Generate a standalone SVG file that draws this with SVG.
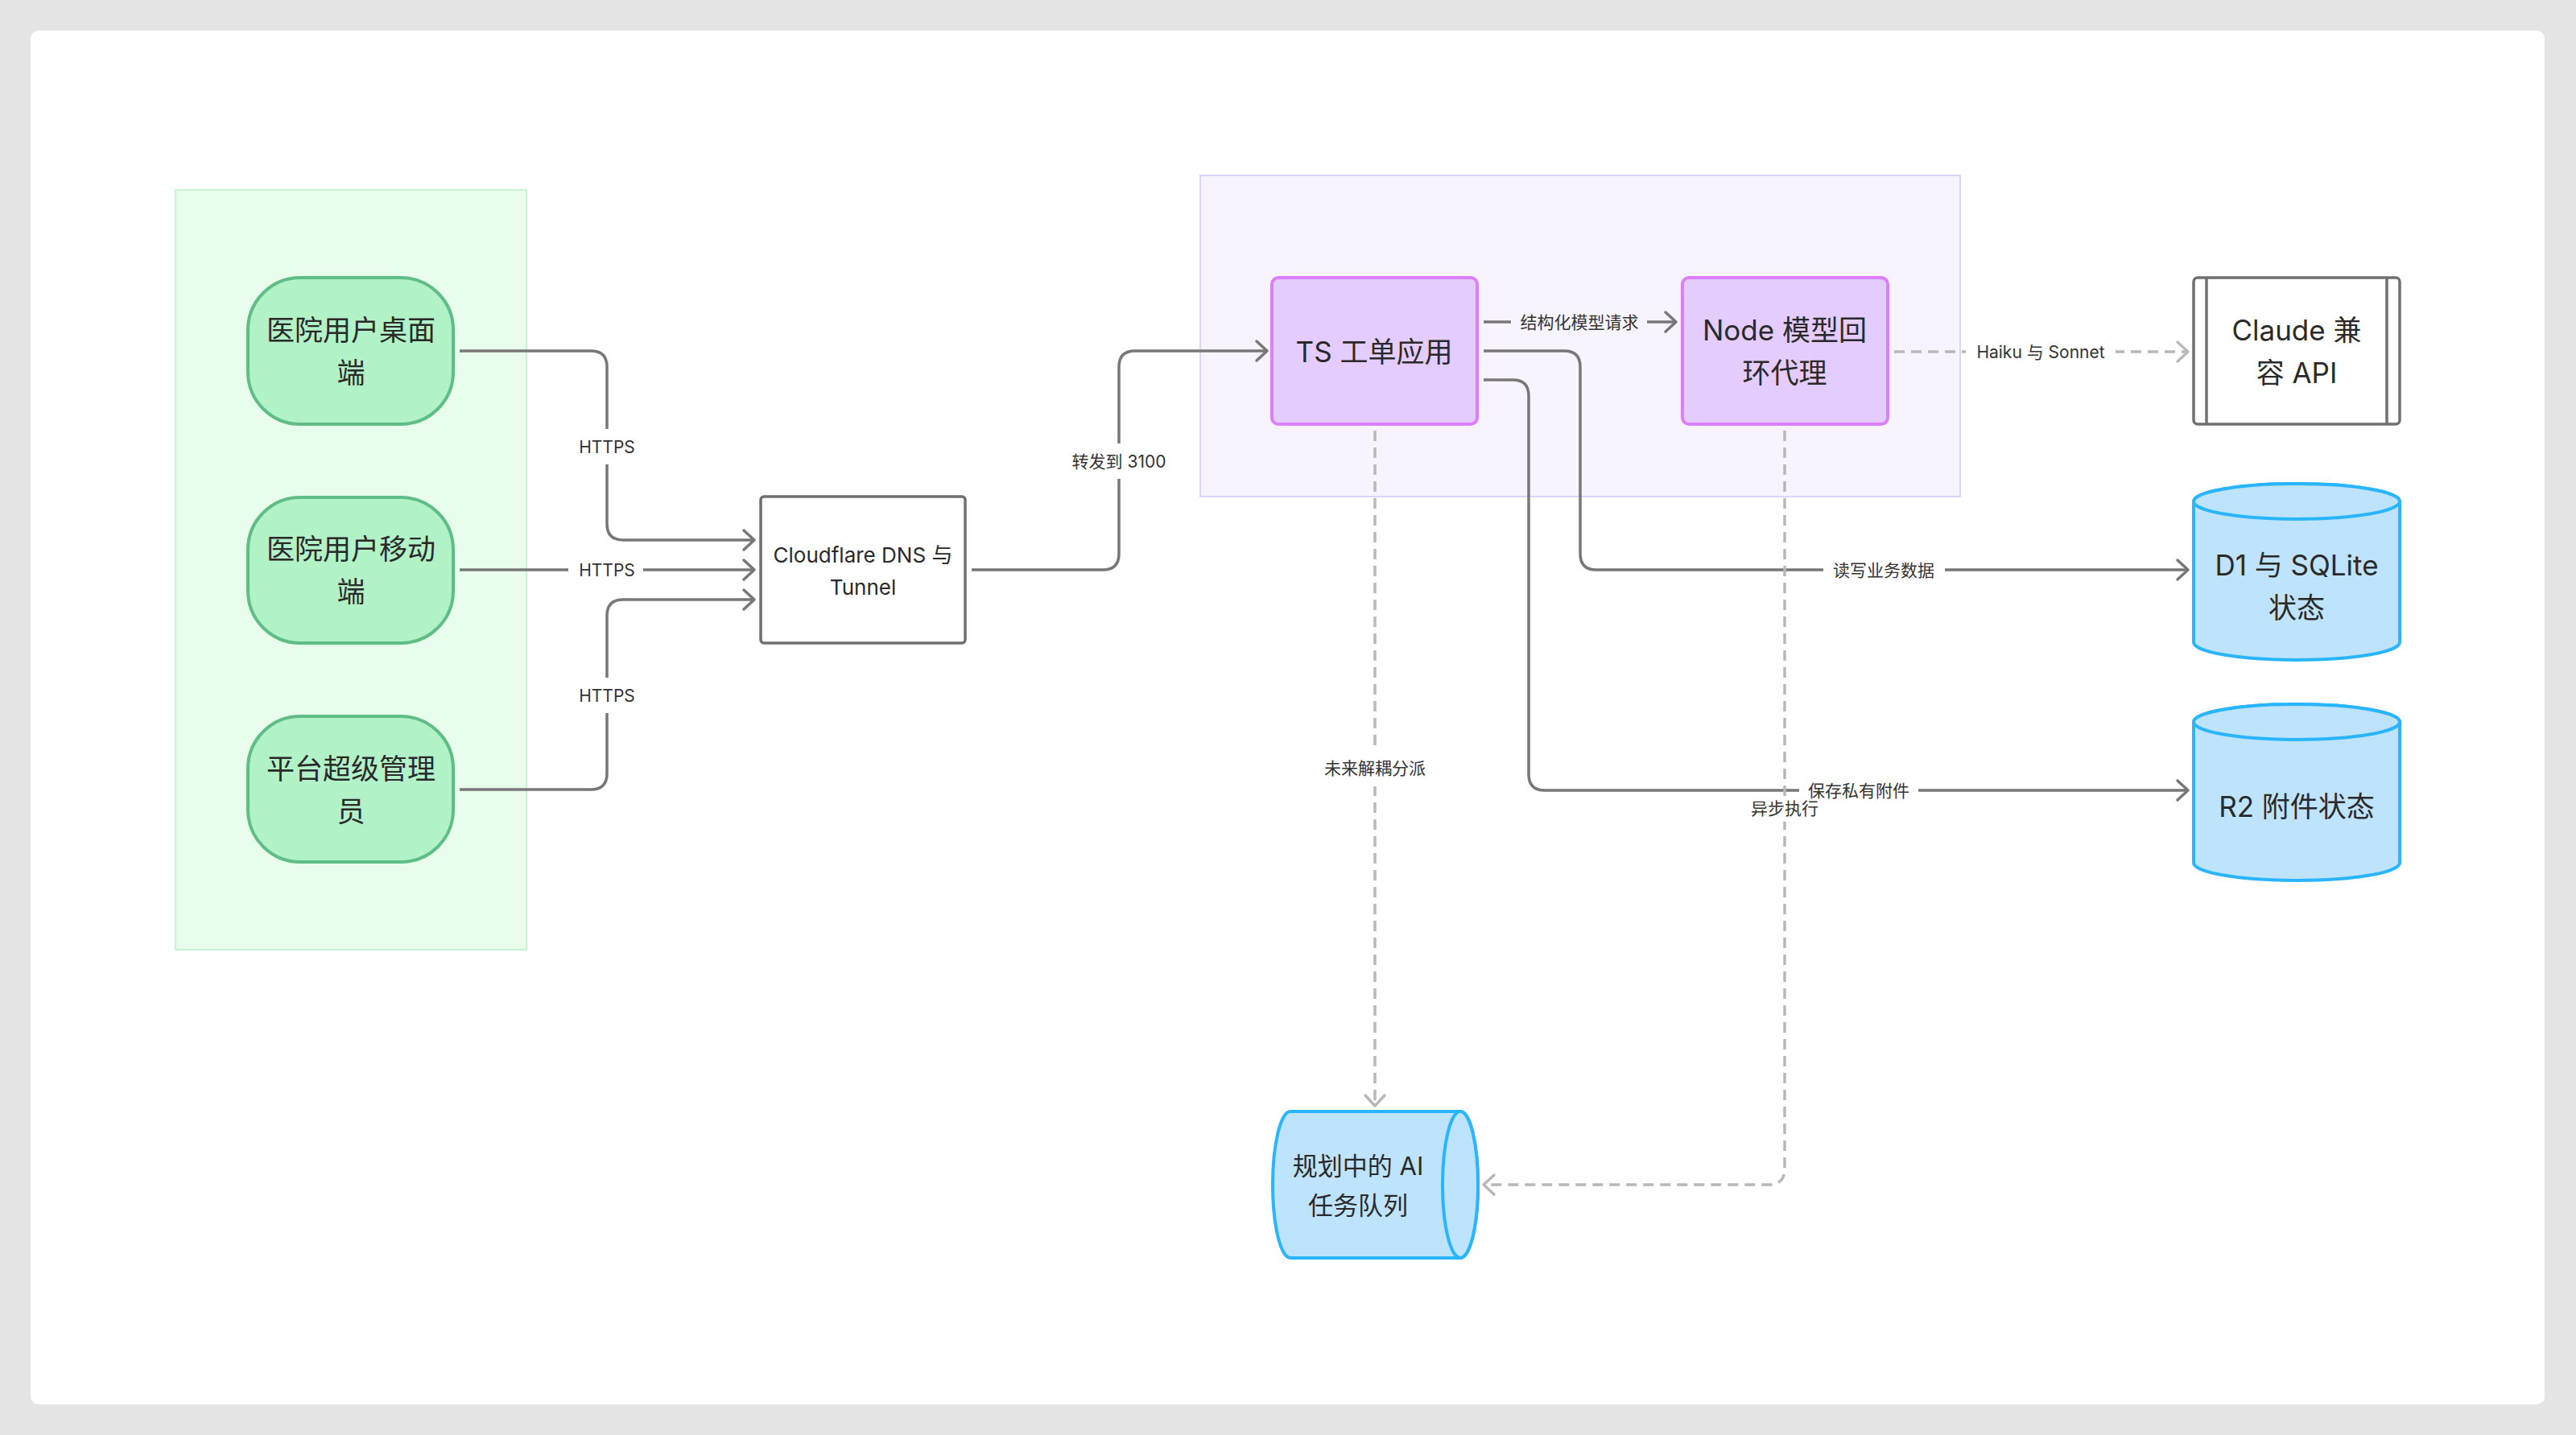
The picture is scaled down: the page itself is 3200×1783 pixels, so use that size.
<svg xmlns="http://www.w3.org/2000/svg" width="3200" height="1783" viewBox="0 0 3200 1783">
<defs>
<style>
.ntext{font-family:"Inter","Noto Sans CJK SC",sans-serif;font-size:35px;fill:#2a2a2a;text-anchor:middle;dominant-baseline:central}
.qtext{font-family:"Inter","Noto Sans CJK SC",sans-serif;font-size:31px;fill:#2a2a2a;text-anchor:middle;dominant-baseline:central}
.ctext{font-family:"Inter","Noto Sans CJK SC",sans-serif;font-size:26px;fill:#2a2a2a;text-anchor:middle;dominant-baseline:central}
.ltext{font-family:"Inter","Noto Sans CJK SC",sans-serif;font-size:21px;fill:#333;text-anchor:middle;dominant-baseline:central}
.green{fill:#b1f2c7;stroke:#5fbe86;stroke-width:4}
.purple{fill:#e5ccff;stroke:#dd7dff;stroke-width:4}
.db{fill:#bee3fc;stroke:#29b5ff;stroke-width:4}
.plain{fill:#ffffff;stroke:#707070;stroke-width:3.5}
.edge{fill:none;stroke:#777777;stroke-width:3.5}
.dash{fill:none;stroke:#b8b8b8;stroke-width:3.5;stroke-dasharray:13 8}
</style>
<marker id="arr" markerUnits="userSpaceOnUse" markerWidth="40" markerHeight="40" viewBox="-20 -20 40 40" refX="0" refY="0" orient="auto" overflow="visible">
<path d="M-13,-12 L0,0 L-13,12" fill="none" stroke="#777777" stroke-width="3.5" stroke-linecap="round" stroke-linejoin="round"/>
</marker>
<marker id="arrd" markerUnits="userSpaceOnUse" markerWidth="40" markerHeight="40" viewBox="-20 -20 40 40" refX="0" refY="0" orient="auto" overflow="visible">
<path d="M-13,-12 L0,0 L-13,12" fill="none" stroke="#b8b8b8" stroke-width="3.5" stroke-linecap="round" stroke-linejoin="round" stroke-dasharray="none"/>
</marker>
</defs>
<rect x="0" y="0" width="3200" height="1783" fill="#e5e5e5"/>
<rect x="38" y="38" width="3123" height="1707" rx="10" fill="#ffffff"/>

<g id="group-clients">
<rect x="218" y="236" width="436" height="944" fill="#e8fdec" stroke="#c8f4d3" stroke-width="2"/>
</g>
<g id="group-app">
<rect x="1491" y="218" width="944" height="399" fill="#f7f4ff" stroke="#ddd3ff" stroke-width="2"/>
</g>

<g id="connectors">
<path class="edge" d="M571,436 H734 Q754,436 754,456 V651 Q754,671 774,671 H937" marker-end="url(#arr)"/>
<path class="edge" d="M571,708 H937" marker-end="url(#arr)"/>
<path class="edge" d="M571,981 H734 Q754,981 754,961 V765 Q754,745 774,745 H937" marker-end="url(#arr)"/>
<path class="edge" d="M1207,708 H1370 Q1390,708 1390,688 V456 Q1390,436 1410,436 H1574" marker-end="url(#arr)"/>
<path class="edge" d="M1843,400 H2082" marker-end="url(#arr)"/>
<path class="edge" d="M1843,436 H1943 Q1963,436 1963,456 V688 Q1963,708 1983,708 H2718" marker-end="url(#arr)"/>
<path class="edge" d="M1843,472 H1879 Q1899,472 1899,492 V962 Q1899,982 1919,982 H2718" marker-end="url(#arr)"/>
<path class="dash" d="M1708,535 V1374" marker-end="url(#arrd)"/>
<path class="dash" d="M2217,535 V1452 Q2217,1472 2197,1472 H1843" marker-end="url(#arrd)"/>
<path class="dash" d="M2353,437 H2718" marker-end="url(#arrd)"/>
<g id="labels">
<rect x="718" y="533" width="72" height="44" fill="#ffffff"/>
<text class="ltext" x="754" y="555">HTTPS</text>
<rect x="706" y="690" width="93" height="36" fill="#ffffff"/>
<text class="ltext" x="754" y="708">HTTPS</text>
<rect x="718" y="842" width="72" height="44" fill="#ffffff"/>
<text class="ltext" x="754" y="864">HTTPS</text>
<rect x="1325" y="551" width="130" height="44" fill="#ffffff"/>
<text class="ltext" x="1390" y="573">转发到 3100</text>
<rect x="1877" y="382" width="169" height="36" fill="#f7f4ff"/>
<text class="ltext" x="1962" y="400">结构化模型请求</text>
<rect x="2265" y="690" width="151" height="36" fill="#ffffff"/>
<text class="ltext" x="2340" y="708">读写业务数据</text>
<rect x="1640" y="931" width="136" height="46" fill="#ffffff"/>
<text class="ltext" x="1708" y="954">未来解耦分派</text>
<rect x="2168" y="989" width="98" height="32" fill="#ffffff"/>
<text class="ltext" x="2217" y="1004">异步执行</text>
<rect x="2235" y="970" width="148" height="24" fill="#ffffff"/>
<text class="ltext" x="2309" y="982">保存私有附件</text>
<rect x="2442" y="419" width="186" height="36" fill="#ffffff"/>
<text class="ltext" x="2535" y="437">Haiku 与 Sonnet</text>
</g>
</g>

<g id="node-desktop">
<rect class="green" x="308" y="345" width="255" height="182" rx="65" ry="65"/>
<text class="ntext" x="436" y="410">医院用户桌面</text>
<text class="ntext" x="436" y="463">端</text>
</g>
<g id="node-mobile">
<rect class="green" x="308" y="618" width="255" height="181" rx="65" ry="65"/>
<text class="ntext" x="436" y="682">医院用户移动</text>
<text class="ntext" x="436" y="735">端</text>
</g>
<g id="node-admin">
<rect class="green" x="308" y="890" width="255" height="181" rx="65" ry="65"/>
<text class="ntext" x="436" y="955">平台超级管理</text>
<text class="ntext" x="436" y="1008">员</text>
</g>
<g id="node-cloudflare">
<rect class="plain" x="945" y="617" width="254" height="182" rx="4"/>
<text class="ctext" x="1072" y="689">Cloudflare DNS 与</text>
<text class="ctext" x="1072" y="729">Tunnel</text>
</g>
<g id="node-ts">
<rect class="purple" x="1580" y="345" width="255" height="182" rx="8"/>
<text class="ntext" x="1707" y="437">TS 工单应用</text>
</g>
<g id="node-proxy">
<rect class="purple" x="2090" y="345" width="255" height="182" rx="8"/>
<text class="ntext" x="2217" y="410">Node 模型回</text>
<text class="ntext" x="2217" y="463">环代理</text>
</g>
<g id="node-claude">
<rect class="plain" x="2725" y="345" width="256" height="182" rx="5"/>
<line x1="2741" y1="345" x2="2741" y2="527" stroke="#707070" stroke-width="3.5"/>
<line x1="2965" y1="345" x2="2965" y2="527" stroke="#707070" stroke-width="3.5"/>
<text class="ntext" x="2853" y="410">Claude 兼</text>
<text class="ntext" x="2853" y="463">容 API</text>
</g>
<g id="node-d1">
<path class="db" d="M2725,623 A128,22 0 0 1 2981,623 V798 A128,22 0 0 1 2725,798 Z"/>
<ellipse class="db" cx="2853" cy="623" rx="128" ry="22"/>
<text class="ntext" x="2853" y="702">D1 与 SQLite</text>
<text class="ntext" x="2853" y="755">状态</text>
</g>
<g id="node-r2">
<path class="db" d="M2725,897 A128,22 0 0 1 2981,897 V1072 A128,22 0 0 1 2725,1072 Z"/>
<ellipse class="db" cx="2853" cy="897" rx="128" ry="22"/>
<text class="ntext" x="2853" y="1002">R2 附件状态</text>
</g>
<g id="node-queue">
<path class="db" d="M1603,1381 H1814 A22,91 0 0 1 1814,1563 H1603 A22,91 0 0 1 1603,1381 Z"/>
<ellipse class="db" cx="1814" cy="1472" rx="22" ry="91"/>
<text class="qtext" x="1687" y="1448">规划中的 AI</text>
<text class="qtext" x="1687" y="1497">任务队列</text>
</g>
</svg>
